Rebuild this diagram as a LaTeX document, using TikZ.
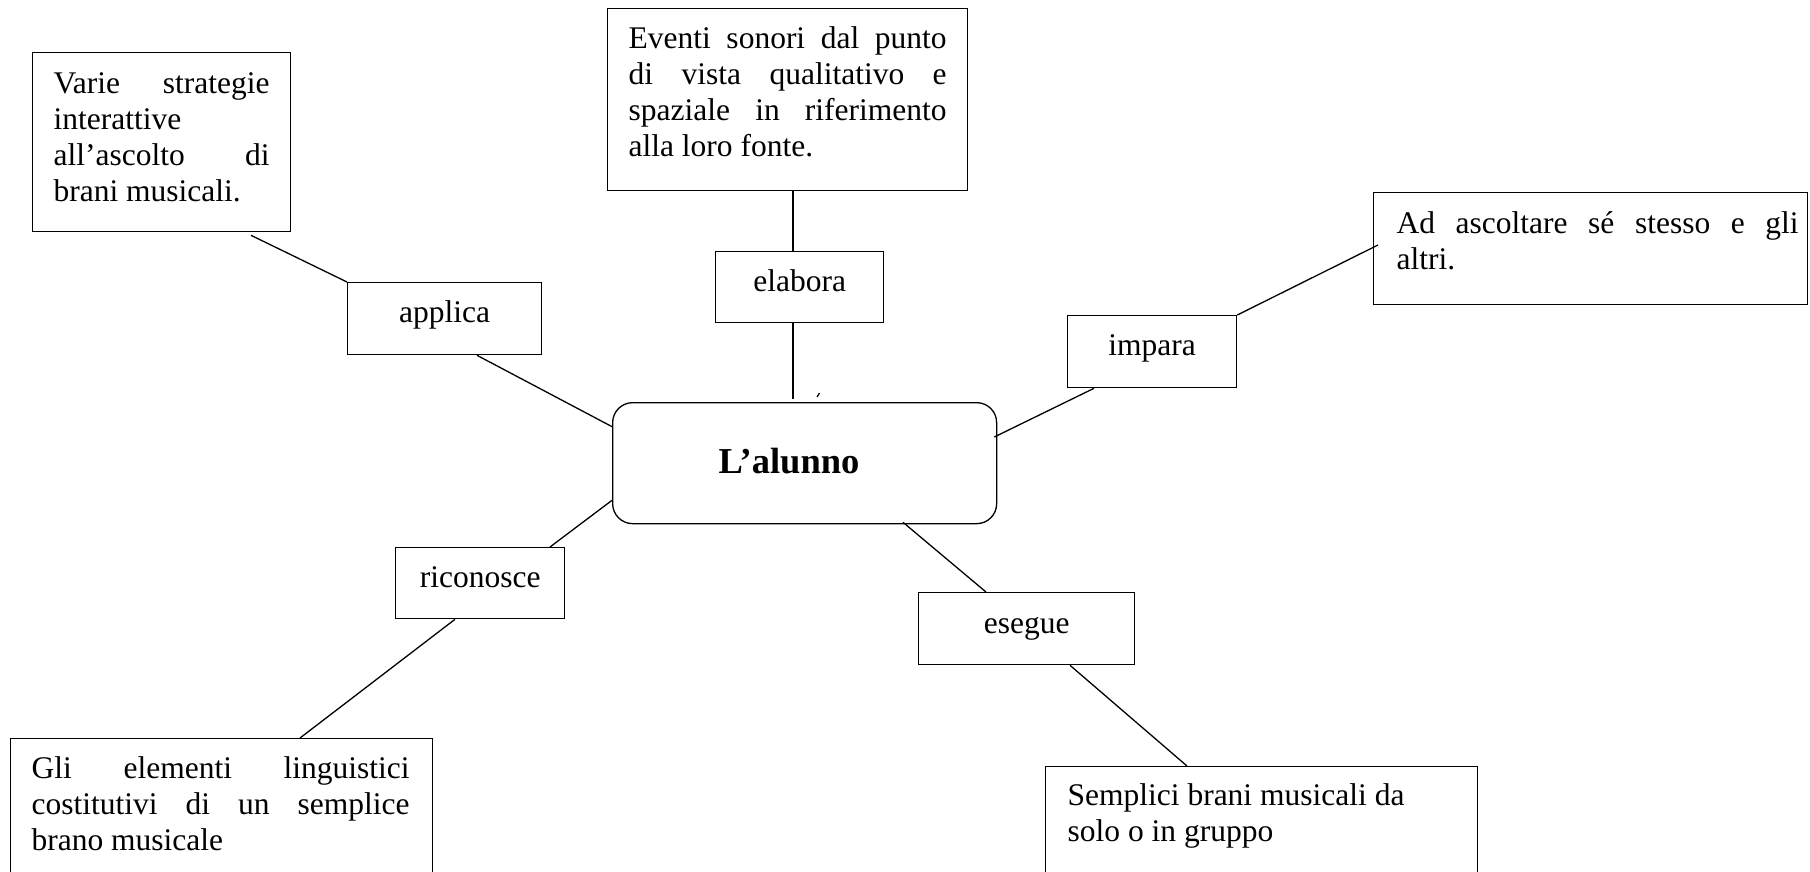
\documentclass[tikz,border=0pt]{standalone}
\usepackage{fontspec}
\setmainfont{Liberation Serif}
\begin{document}
\begin{tikzpicture}[x=1pt,y=-1pt,
  bx/.style={draw=black, line width=1.3pt, inner sep=0pt, anchor=north west,
             font=\fontsize{31.5}{36}\selectfont},
  ln/.style={line width=1.3pt, draw=black}]
\useasboundingbox (0,0) rectangle (1810,871);
\fill[white] (0,0) rectangle (1810,871);
\clip (0,0) rectangle (1810,871);

% content boxes
\node[bx] (V) at (32,52) {\parbox[c][179pt][t]{258pt}{\leftskip=21pt\rightskip=21pt\rule{0pt}{41pt}Varie\hfill strategie\\interattive\\all’ascolto\hfill di\\brani musicali.}};
\node[bx] (E) at (607,8) {\parbox[c][182pt][t]{360pt}{\leftskip=21pt\rightskip=21pt\rule{0pt}{40pt}Eventi\hfill sonori\hfill dal\hfill punto\\di\hfill vista\hfill qualitativo\hfill e\\spaziale\hfill in\hfill riferimento\\alla loro fonte.}};
\node[bx] (A) at (1373,192) {\parbox[c][112pt][t]{434pt}{\leftskip=23pt\rightskip=9pt\rule{0pt}{41pt}Ad\hfill ascoltare\hfill sé\hfill stesso\hfill e\hfill gli\\altri.}};
\node[bx] (G) at (10,738) {\parbox[c][200pt][t]{422pt}{\leftskip=21pt\rightskip=23pt\rule{0pt}{40pt}Gli\hfill elementi\hfill linguistici\\costitutivi\hfill di\hfill un\hfill semplice\\brano musicale}};
\node[bx] (S) at (1045,766) {\parbox[c][200pt][t]{432pt}{\leftskip=22pt\rightskip=20pt\rule{0pt}{39pt}Semplici brani musicali da\\solo o in gruppo}};

% label boxes
\node[bx] (appl) at (347,282) {\parbox[c][72pt][t]{194pt}{\centering\rule{0pt}{40pt}applica}};
\node[bx] (elab) at (715,251) {\parbox[c][71pt][t]{168pt}{\centering\rule{0pt}{40pt}elabora}};
\node[bx] (imp) at (1067,315) {\parbox[c][72pt][t]{169pt}{\centering\rule{0pt}{40pt}impara}};
\node[bx] (ric) at (395,547) {\parbox[c][71pt][t]{169pt}{\centering\rule{0pt}{40pt}riconosce}};
\node[bx] (ese) at (918,592) {\parbox[c][72pt][t]{216pt}{\centering\rule{0pt}{41pt}esegue}};

% centre
\node[bx, rounded corners=20pt] (C) at (612,402) {\parbox[c][121pt][t]{384pt}{\rule{0pt}{71pt}\hspace*{106pt}\fontsize{36.5}{40}\selectfont\bfseries L’alunno}};

% connectors
\draw[ln] ([xshift=219pt,yshift=-3pt]V.south west) -- (appl.north west);
\draw[ln] ([xshift=130pt]appl.south west) -- ([yshift=36.5pt]C.west);
\draw[ln] ([xshift=186pt]E.south west) -- ([xshift=78pt]elab.north west);
\draw[ln] ([xshift=78pt]elab.south west) -- ([xshift=181pt,yshift=3pt]C.north west);
\draw[ln] ([xshift=-3pt,yshift=-35pt]C.north east) -- ([xshift=27pt]imp.south west);
\draw[ln] (imp.north east) -- ([xshift=5pt,yshift=-53pt]A.north west);
\draw[ln] ([yshift=24pt]C.south west) -- ([xshift=155pt]ric.north west);
\draw[ln] ([xshift=60pt]ric.south west) -- ([xshift=290pt]G.north west);
\draw[ln] ([xshift=291pt,yshift=2pt]C.south west) -- ([xshift=68pt]ese.north west);
\draw[ln] ([xshift=152pt]ese.south west) -- ([xshift=142pt]S.north west);
% small stray tick above the centre box
\draw[line width=1.2pt] ([xshift=205pt,yshift=5pt]C.north west) -- ([xshift=207.5pt,yshift=9pt]C.north west);
\end{tikzpicture}
\end{document}
